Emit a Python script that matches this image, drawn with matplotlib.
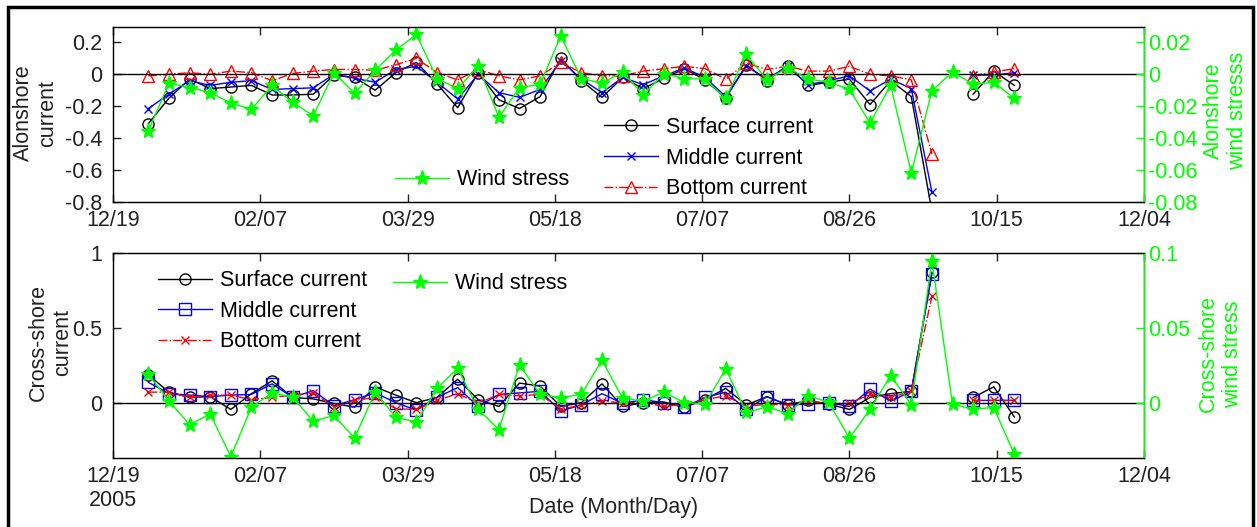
import numpy as np
import pandas as pd
import matplotlib
matplotlib.use('Agg')
import matplotlib.pyplot as plt
from matplotlib.patches import Rectangle

plt.rcParams['font.family'] = ['Liberation Sans', 'DejaVu Sans']
plt.rcParams['axes.unicode_minus'] = False

# weekly sampling dates
dates = pd.date_range('2005-12-31', periods=43, freq='7D')
t0 = pd.Timestamp('2005-12-19')
tick_labels = ['12/19', '02/07', '03/29', '05/18', '07/07', '08/26', '10/15', '12/04']

nan = np.nan
# alongshore currents (top panel)
along_surf = [-0.31, -0.15, -0.03, -0.09, -0.08, -0.07, -0.13, -0.13, -0.125, -0.005, -0.02, -0.10, 0.01, 0.075,
              -0.06, -0.21, 0.01, -0.16, -0.215, -0.14, 0.10, -0.04, -0.145, -0.02, -0.09, -0.025, 0.035, -0.035,
              -0.15, 0.06, -0.04, 0.055, -0.07, -0.05, -0.03, -0.19, -0.04, -0.14, -0.86, nan, -0.125, 0.02, -0.07]
along_mid = [-0.215, -0.125, -0.04, -0.07, -0.05, -0.04, -0.095, -0.09, -0.085, 0.0, -0.025, -0.05, 0.03, 0.05,
             -0.05, -0.155, 0.0, -0.115, -0.145, -0.095, 0.085, -0.03, -0.115, -0.02, -0.065, -0.01, 0.04, -0.02,
             -0.14, 0.05, -0.03, 0.05, -0.065, -0.04, -0.01, -0.105, -0.03, -0.09, -0.74, nan, -0.005, -0.005, 0.01]
along_bot = [-0.01, 0.0, 0.01, 0.0, 0.02, 0.01, -0.04, 0.005, 0.02, 0.03, 0.03, 0.025, 0.06, 0.10,
             0.01, -0.035, 0.03, -0.01, -0.035, -0.01, 0.075, 0.01, -0.01, -0.01, 0.02, 0.035, 0.05, 0.035,
             -0.03, 0.07, 0.03, 0.05, 0.02, 0.02, 0.05, 0.0, -0.01, -0.035, -0.50, nan, -0.01, 0.015, 0.035]
along_wind = [-0.0355, -0.0056, -0.0083, -0.0115, -0.018, -0.022, -0.007, -0.0177, -0.026, 0.001, -0.012, 0.0025, 0.0152, 0.025,
              -0.0027, -0.009, 0.0052, -0.027, -0.0083, -0.0063, 0.024, -0.0027, -0.0056, 0.0015, -0.013, 0.0004, -0.0027, -0.003,
              -0.0152, 0.0125, -0.0035, 0.0042, -0.003, -0.005, -0.0094, -0.0307, -0.0069, -0.062, -0.0104, 0.0015, -0.0063, -0.005, -0.0152]

# cross-shore currents (bottom panel)
cross_surf = [0.19, 0.075, 0.04, 0.045, -0.04, 0.065, 0.15, 0.04, 0.03, 0.0, -0.025, 0.11, 0.055, 0.005,
              0.04, 0.16, 0.025, -0.02, 0.135, 0.115, -0.02, 0.005, 0.13, -0.02, 0.005, 0.01, -0.025, 0.025,
              0.10, -0.01, 0.045, -0.01, 0.02, -0.005, -0.04, 0.04, 0.065, 0.08, 0.87, nan, 0.04, 0.11, -0.09]
cross_mid = [0.14, 0.065, 0.055, 0.045, 0.055, 0.06, 0.13, 0.04, 0.085, -0.015, 0.025, 0.07, 0.005, -0.045,
             0.04, 0.105, -0.02, 0.06, 0.07, 0.08, -0.05, -0.01, 0.065, 0.0, 0.025, 0.005, -0.025, 0.04,
             0.075, -0.04, 0.045, -0.01, -0.005, 0.005, -0.02, 0.095, 0.015, 0.08, 0.86, nan, 0.02, 0.02, 0.02]
cross_bot = [0.075, 0.075, 0.04, 0.055, 0.055, 0.025, 0.04, 0.055, 0.07, -0.025, 0.02, 0.04, -0.035, -0.04,
             0.02, 0.065, 0.0, 0.06, 0.05, 0.06, -0.04, -0.01, 0.015, 0.005, 0.005, -0.02, -0.005, 0.025,
             0.05, -0.02, -0.005, -0.01, 0.015, 0.0, 0.0, 0.06, 0.04, 0.08, 0.71, nan, 0.02, 0.02, 0.02]
cross_wind = [0.0193, 0.0016, -0.014, -0.007, -0.0353, -0.0024, 0.007, 0.0042, -0.0118, -0.008, -0.0229, 0.0075, -0.0091, -0.0124,
              0.010, 0.0233, -0.004, -0.0173, 0.0255, 0.006, 0.0038, 0.006, 0.0287, 0.0034, 0.0016, 0.0075, 0.0006, -0.0004,
              0.0229, -0.006, -0.0022, -0.0067, 0.0051, 0.0007, -0.0231, -0.0038, 0.0185, -0.0009, 0.0947, -0.0004, -0.0038, -0.0027, -0.0338]

days = np.asarray((dates - t0).days, dtype=float)
GREEN = '#00ff00'
FS = 15.5

fig = plt.figure(figsize=(12.57, 5.27), dpi=100)


def setup_axes(ax, ax2, ylim, yticks, ylabels, ylim2, yticks2, ylabels2, xlabels):
    ax.set_xlim(0, 350)
    ax.set_xticks(np.arange(0, 351, 50))
    ax.set_xticklabels(xlabels)
    ax.set_ylim(*ylim)
    ax.set_yticks(yticks)
    ax.set_yticklabels(ylabels)
    ax.tick_params(direction='in', length=6, width=1, labelsize=FS, top=True, right=False, colors='#222222')
    ax.tick_params(axis='x', pad=6)
    ax.tick_params(axis='y', pad=8)
    ax.axhline(0, color='k', lw=1)
    for s in ax.spines.values():
        s.set_linewidth(1)
        s.set_color('#222222')
    ax2.set_ylim(*ylim2)
    ax2.set_yticks(yticks2)
    ax2.set_yticklabels(ylabels2)
    ax2.tick_params(axis='y', direction='in', length=6, width=1, labelsize=FS, colors=GREEN, pad=3)
    ax2.spines['right'].set_color(GREEN)
    ax2.spines['right'].set_linewidth(1)


leg_kw = dict(frameon=False, fontsize=FS, handlelength=2.5, handletextpad=0.4,
              labelspacing=0.45, borderpad=0, borderaxespad=0, loc='upper left')

# ---- top panel: alongshore
ax1 = fig.add_axes([0.0899, 0.6173, 0.8202, 0.3324])
ax1b = ax1.twinx()
ax1.plot(days, along_surf, '-o', color='k', mfc='none', ms=8, lw=1, label='Surface current')
ax1.plot(days, along_mid, '-x', color='b', ms=6, lw=1, label='Middle current')
ax1.plot(days, along_bot, '-.^', color='r', mfc='none', ms=9, lw=1, label='Bottom current')
ax1b.plot(days, along_wind, '-*', color=GREEN, ms=11, lw=1, label='Wind stress')
setup_axes(ax1, ax1b, (-0.8, 0.3), [-0.8, -0.6, -0.4, -0.2, 0, 0.2],
           ['-0.8', '-0.6', '-0.4', '-0.2', '0', '0.2'],
           (-0.08, 0.03), [-0.08, -0.06, -0.04, -0.02, 0, 0.02],
           ['-0.08', '-0.06', '-0.04', '-0.02', '0', '0.02'], tick_labels)
ax1.set_ylabel('Alonshore\ncurrent', fontsize=FS, color='#222222')
ax1.yaxis.set_label_coords(-0.053, 0.506)
ax1b.set_ylabel('Alonshore\nwind stresss', fontsize=FS, color=GREEN)
ax1b.yaxis.set_label_coords(1.057, 0.52)
ax1.legend(bbox_to_anchor=(0.476, 0.484), **leg_kw)
ax1b.legend(bbox_to_anchor=(0.2735, 0.185), **leg_kw)

# ---- bottom panel: cross-shore
ax2 = fig.add_axes([0.0899, 0.1315, 0.8202, 0.389])
ax2b = ax2.twinx()
ax2.plot(days, cross_surf, '-o', color='k', mfc='none', ms=8, lw=1, label='Surface current')
ax2.plot(days, cross_mid, '-s', color='b', mfc='none', ms=8, lw=1, label='Middle current')
ax2.plot(days, cross_bot, '-.x', color='r', ms=6, lw=1, label='Bottom current')
ax2b.plot(days, cross_wind, '-*', color=GREEN, ms=11, lw=1, label='Wind stress')
setup_axes(ax2, ax2b, (-0.36, 1.0), [0, 0.5, 1], ['0', '0.5', '1'],
           (-0.036, 0.1), [0, 0.05, 0.1], ['0', '0.05', '0.1'],
           ['12/19\n2005'] + tick_labels[1:])
ax2.set_ylabel('Cross-shore\ncurrent', fontsize=FS, color='#222222')
ax2.yaxis.set_label_coords(-0.039, 0.56)
ax2b.set_ylabel('Cross-shore\nwind stress', fontsize=FS, color=GREEN)
ax2b.yaxis.set_label_coords(1.052, 0.506)
ax2.legend(bbox_to_anchor=(0.0436, 0.915), **leg_kw)
ax2b.legend(bbox_to_anchor=(0.2716, 0.899), **leg_kw)

fig.text(614 / 1257, 1 - 508 / 527, 'Date (Month/Day)', ha='center', va='center', fontsize=FS, color='#222222')

# outer frame
fig.add_artist(Rectangle((0.0064, -0.05), 0.9908, 1.0367, transform=fig.transFigure,
                         fill=False, lw=2.5, ec='k'))

fig.savefig('out.png', dpi=100)
